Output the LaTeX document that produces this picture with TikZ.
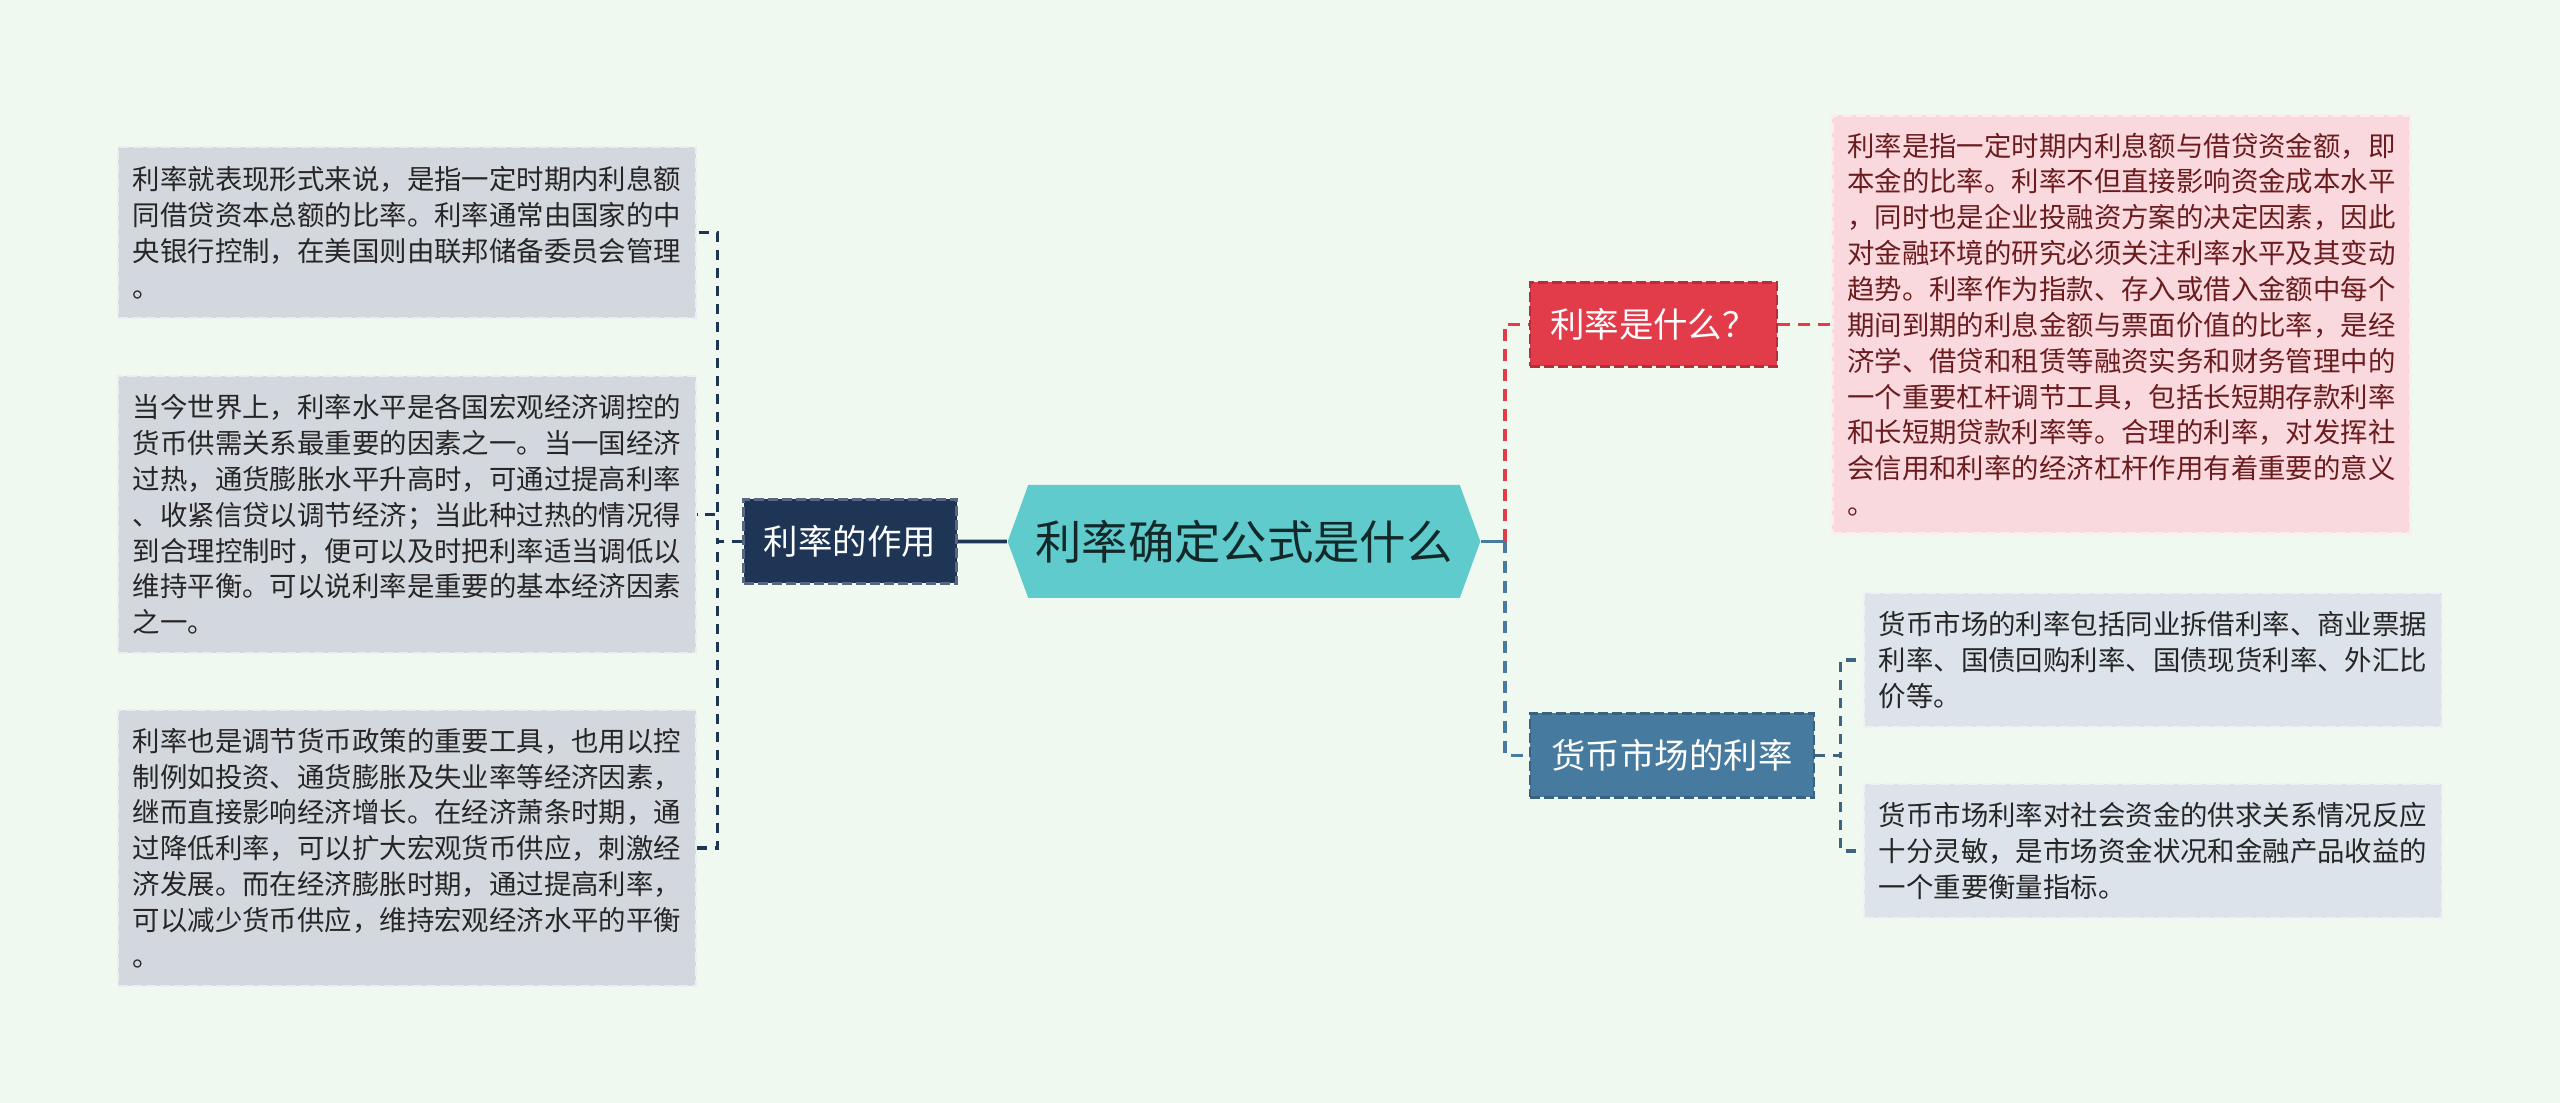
\documentclass[tikz,border=0pt]{standalone}
\usepackage{fontspec}
\setmainfont{Noto Sans CJK SC}
\usepackage{xcolor}
\usetikzlibrary{shapes.symbols, positioning}

\definecolor{bgcol}{RGB}{240,249,239}
\definecolor{navycol}{RGB}{31,53,85}
\definecolor{rootcol}{RGB}{95,203,204}
\definecolor{redcol}{RGB}{226,59,74}
\definecolor{bluecol}{RGB}{70,122,158}
\definecolor{greycol}{RGB}{211,215,222}
\definecolor{pinkcol}{RGB}{249,217,222}
\definecolor{icecol}{RGB}{220,227,234}
\definecolor{maroon}{RGB}{106,28,30}
\definecolor{slatecol}{RGB}{62,100,128}

\newcommand\leaffont{\fontsize{7.8}{10.2}\selectfont}
\newcommand\branchfont{\fontsize{9.8}{11}\selectfont}

\begin{document}
\begin{tikzpicture}[
  leaf/.style    = {rectangle, fill=greycol, draw=white!55!greycol,
                    dash pattern=on 0.1cm off 0.04cm, line width=0.6pt,
                    align=left, font=\leaffont, text=black!85,
                    minimum width=5.78cm, inner xsep=0.13cm},
  pinkleaf/.style= {leaf, fill=pinkcol, draw=white!50!pinkcol, text=maroon},
  iceleaf/.style = {leaf, fill=icecol, draw=white!50!icecol},
  branch/.style  = {rectangle, font=\branchfont, text=white,
                    dash pattern=on 0.1cm off 0.04cm, line width=0.8pt,
                    minimum height=0.84cm, inner xsep=0.15cm},
  root/.style    = {signal, signal to=west and east, signal pointer angle=140,
                    fill=rootcol, text=black!80!rootcol,
                    font=\fontsize{13.2}{15}\selectfont,
                    minimum width=4.3cm, minimum height=1.13cm, inner xsep=0.07cm},
  linkL/.style   = {navycol, line width=0.9pt, dash pattern=on 0.1cm off 0.08cm},
  linkR/.style   = {redcol, line width=1.1pt, dash pattern=on 0.12cm off 0.08cm},
  linkB/.style   = {bluecol, line width=1.1pt, dash pattern=on 0.12cm off 0.08cm},
  linkS/.style   = {slatecol, line width=0.9pt, dash pattern=on 0.1cm off 0.08cm}
]
\useasboundingbox (0,0) rectangle (25.6,11.03);
\fill[bgcol] (0,0) rectangle (25.6,11.03);

% ---------- centre ----------
\node[root] (root) at (12.44,5.615) {利率确定公式是什么};

% ---------- left branch ----------
\node[branch, fill=navycol, draw=navycol!75!white, minimum width=2.13cm,
      left=0.49cm of root] (role) {利率的作用};

\node[leaf, minimum height=1.71cm] (l1) at (4.07,8.705)
  {利率就表现形式来说，是指一定时期内利息额\\
   同借贷资本总额的比率。利率通常由国家的中\\
   央银行控制，在美国则由联邦储备委员会管理\\
   。};
\node[leaf, minimum height=2.77cm] (l2) at (4.07,5.885)
  {当今世界上，利率水平是各国宏观经济调控的\\
   货币供需关系最重要的因素之一。当一国经济\\
   过热，通货膨胀水平升高时，可通过提高利率\\
   、收紧信贷以调节经济；当此种过热的情况得\\
   到合理控制时，便可以及时把利率适当调低以\\
   维持平衡。可以说利率是重要的基本经济因素\\
   之一。};
\node[leaf, minimum height=2.76cm] (l3) at (4.07,2.55)
  {利率也是调节货币政策的重要工具，也用以控\\
   制例如投资、通货膨胀及失业率等经济因素，\\
   继而直接影响经济增长。在经济萧条时期，通\\
   过降低利率，可以扩大宏观货币供应，刺激经\\
   济发展。而在经济膨胀时期，通过提高利率，\\
   可以减少货币供应，维持宏观经济水平的平衡\\
   。};

\draw[navycol, line width=1.1pt] (role) -- (root);
\foreach \n in {l1,l2,l3}
  \draw[linkL] (role.west) -- ++(-0.25,0) |- (\n.east);

% ---------- right branches ----------
\node[branch, fill=redcol, draw=redcol!80!black, minimum width=2.47cm]
  (what) at (16.535,7.785) {利率是什么？};
\node[branch, fill=bluecol, draw=bluecol!80!black, minimum width=2.84cm]
  (market) at (16.72,3.475) {货币市场的利率};

\node[pinkleaf, minimum height=4.18cm, right=0.53cm of what] (p1)
  {利率是指一定时期内利息额与借贷资金额，即\\
   本金的比率。利率不但直接影响资金成本水平\\
   ，同时也是企业投融资方案的决定因素，因此\\
   对金融环境的研究必须关注利率水平及其变动\\
   趋势。利率作为指款、存入或借入金额中每个\\
   期间到期的利息金额与票面价值的比率，是经\\
   济学、借贷和租赁等融资实务和财务管理中的\\
   一个重要杠杆调节工具，包括长短期存款利率\\
   和长短期贷款利率等。合理的利率，对发挥社\\
   会信用和利率的经济杠杆作用有着重要的意义\\
   。};

\node[iceleaf, minimum height=1.34cm] (r1) at (21.53,4.43)
  {货币市场的利率包括同业拆借利率、商业票据\\
   利率、国债回购利率、国债现货利率、外汇比\\
   价等。};
\node[iceleaf, minimum height=1.34cm] (r2) at (21.53,2.52)
  {货币市场利率对社会资金的供求关系情况反应\\
   十分灵敏，是市场资金状况和金融产品收益的\\
   一个重要衡量指标。};

\draw[bluecol, line width=1.1pt] (root.east) -- ++(0.24,0) coordinate (hub);
\draw[linkR] (hub) |- (what.west);
\draw[linkB] (hub) |- (market.west);
\draw[linkR] (what) -- (p1);
\foreach \n in {r1,r2}
  \draw[linkS] (market.east) -- ++(0.25,0) |- (\n.west);

\end{tikzpicture}
\end{document}
